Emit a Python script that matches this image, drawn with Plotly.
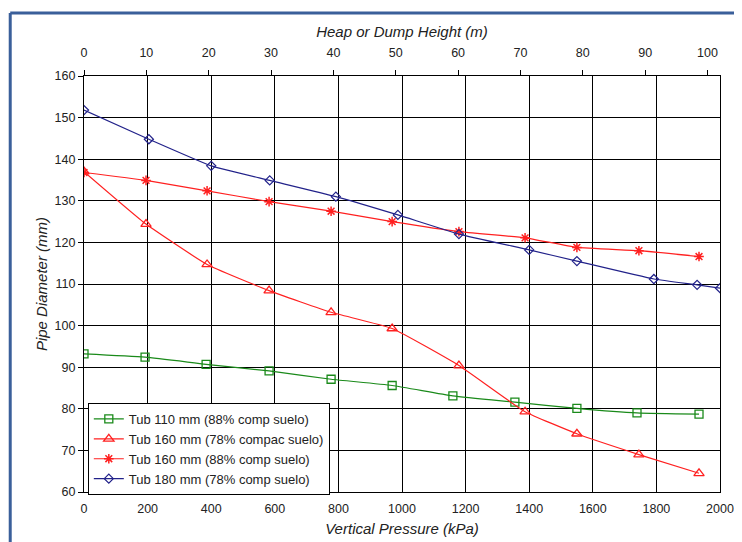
import plotly.graph_objects as go

# Data (x = vertical pressure kPa, y = pipe diameter mm)
g110_x = [0, 192, 384, 582, 777, 969, 1160, 1355, 1550, 1739, 1934]
g110_y = [93.2, 92.4, 90.7, 89.1, 87.1, 85.6, 83.1, 81.6, 80.1, 79.0, 78.7]

r160a_x = [0, 195, 387, 582, 777, 969, 1179, 1387, 1550, 1745, 1934]
r160a_y = [137.0, 124.4, 114.7, 108.4, 103.2, 99.3, 90.4, 79.3, 74.0, 69.0, 64.5]

r160b_x = [0, 195, 387, 582, 777, 969, 1179, 1387, 1550, 1745, 1934]
r160b_y = [136.8, 134.9, 132.4, 129.8, 127.5, 125.0, 122.6, 121.1, 118.8, 118.0, 116.6]

b180_x = [0, 204, 400, 584, 792, 987, 1179, 1400, 1550, 1792, 1928, 2000]
b180_y = [151.8, 144.8, 138.4, 134.9, 131.0, 126.6, 122.0, 118.2, 115.5, 111.2, 109.8, 109.0]

names = ["Tub 110 mm (88% comp suelo)", "Tub 160 mm (78% compac suelo)",
         "Tub 160 mm (88% comp suelo)", "Tub 180 mm (78% comp suelo)"]

bottom_ticks = [0, 200, 400, 600, 800, 1000, 1200, 1400, 1600, 1800, 2000]
top_ticks = [0, 10, 20, 30, 40, 50, 60, 70, 80, 90, 100]
y_ticks = [60, 70, 80, 90, 100, 110, 120, 130, 140, 150, 160]

font = "Liberation Sans, Arial, sans-serif"

fig = go.Figure()
fig.add_trace(go.Scatter(x=g110_x, y=g110_y, name=names[0], mode="lines+markers",
                         line=dict(color="#1a8a1a", width=1.2, shape="spline", smoothing=0.5),
                         marker=dict(symbol="square-open", size=8, color="#1a8a1a", line=dict(width=1.3))))
fig.add_trace(go.Scatter(x=r160a_x, y=r160a_y, name=names[1], mode="lines+markers",
                         line=dict(color="#ff2020", width=1.2, shape="spline", smoothing=0.4),
                         marker=dict(symbol="triangle-up-open", size=9, color="#ff2020", line=dict(width=1.3))))
fig.add_trace(go.Scatter(x=r160b_x, y=r160b_y, name=names[2], mode="lines+markers",
                         line=dict(color="#ff2020", width=1.2, shape="spline", smoothing=0.4),
                         marker=dict(symbol="asterisk-open", size=8, color="#ff2020", line=dict(width=1.5, color="#ff2020"))))
fig.add_trace(go.Scatter(x=b180_x, y=b180_y, name=names[3], mode="lines+markers",
                         line=dict(color="#22228a", width=1.2, shape="spline", smoothing=0.4),
                         marker=dict(symbol="diamond-open", size=7, color="#22228a", line=dict(width=1.2))))
# invisible trace to activate the top axis
fig.add_trace(go.Scatter(x=[0, 100], y=[60, 60], xaxis="x2", mode="markers",
                         marker=dict(opacity=0), showlegend=False, hoverinfo="skip"))

fig.update_layout(
    width=742, height=542,
    margin=dict(l=76, r=30, t=68, b=58),
    paper_bgcolor="white", plot_bgcolor="white",
    font=dict(family=font, size=12, color="#222"),
    xaxis=dict(range=[0, 2000], tickvals=bottom_ticks, showgrid=True, gridcolor="black", gridwidth=1,
               showline=True, linecolor="black", linewidth=1.3, mirror=False, zeroline=False,
               ticks="", tickfont=dict(size=12.5), ticklabelstandoff=5,
               title=dict(text="<i>Vertical Pressure (kPa)</i>", font=dict(size=15), standoff=8)),
    xaxis2=dict(range=[0, 102], tickvals=top_ticks, overlaying="x", side="top", anchor="y",
                showgrid=False, ticks="outside", ticklen=5, tickcolor="black", tickwidth=1.3,
                showline=True, linecolor="black", linewidth=1.3, zeroline=False,
                tickfont=dict(size=12.5), ticklabelstandoff=8,
                title=dict(text="<i>Heap or Dump Height (m)</i>", font=dict(size=15), standoff=4)),
    yaxis=dict(range=[60, 160], tickvals=y_ticks, showgrid=True, gridcolor="black", gridwidth=1,
               showline=True, linecolor="black", linewidth=1.3, mirror=True, zeroline=False,
               ticks="outside", ticklen=5, tickcolor="black", tickfont=dict(size=12.5),
               title=dict(text="<i>Pipe Diameter (mm)</i>", font=dict(size=15), standoff=3)),
    legend=dict(x=0.006, y=0.214, xanchor="left", yanchor="top", bgcolor="white",
                bordercolor="black", borderwidth=1, font=dict(size=13, color="#222"),
                tracegroupgap=0, itemwidth=30),
    showlegend=True,
    shapes=[
        dict(type="line", xref="paper", yref="paper", x0=-0.116, x1=-0.116, y0=-0.3, y1=1.1514,
             line=dict(color="#3a5f9a", width=3), layer="above"),
        dict(type="line", xref="paper", yref="paper", x0=-0.116, x1=1.2, y0=1.1514, y1=1.1514,
             line=dict(color="#3a5f9a", width=3), layer="above"),
    ],
)

fig.write_html("out.html", config={"displayModeBar": False})
